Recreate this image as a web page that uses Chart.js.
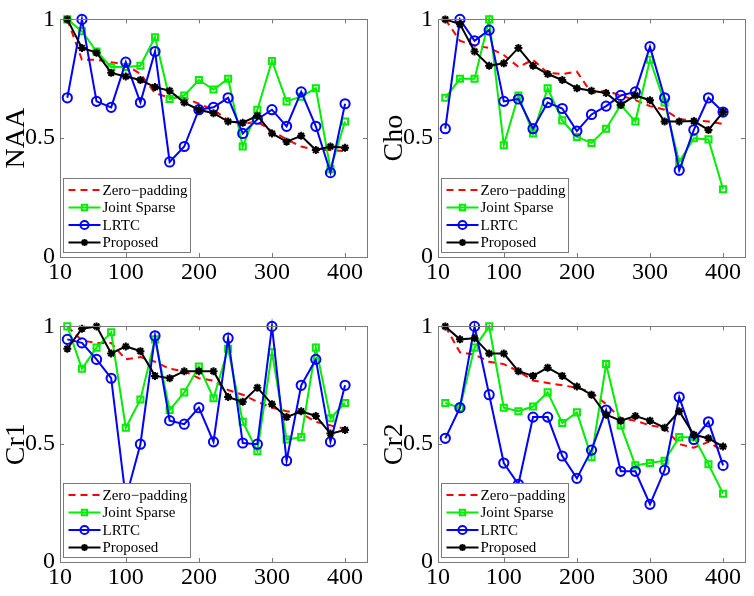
<!DOCTYPE html>
<html>
<head>
<meta charset="utf-8">
<script src="https://cdn.jsdelivr.net/npm/chart.js@4.4.1/dist/chart.umd.min.js"></script>
<style>
  body { margin: 0; background: #fff; overflow: hidden; }
  canvas { position: absolute; }
</style>
</head>
<body>
<canvas id="cNAA" width="377" height="298" style="left:0px;top:0px;width:377px;height:298px"></canvas>
<canvas id="cCho" width="377" height="298" style="left:378px;top:0px;width:377px;height:298px"></canvas>
<canvas id="cCr1" width="377" height="289" style="left:0px;top:307px;width:377px;height:289px"></canvas>
<canvas id="cCr2" width="377" height="289" style="left:378px;top:307px;width:377px;height:289px"></canvas>
<script>
// datos
const xValues = [20, 40, 60, 80, 100, 120, 140, 160, 180, 200, 220, 240, 260, 280, 300, 320, 340, 360, 380, 400];
const xTicks = [10, 100, 200, 300, 400];
const yTicks = [0, 0.5, 1];
const yTickLabels = ['0', '0.5', '1'];
const seriesNames = ['Zero\u2212padding', 'Joint Sparse', 'LRTC', 'Proposed'];

// NAA
const naaZero = [1.00, 0.83, 0.83, 0.82, 0.81, 0.77, 0.69, 0.67, 0.67, 0.645, 0.62, 0.575, 0.56, 0.57, 0.53, 0.495, 0.465, 0.45, 0.45, 0.445];
const naaJoint = [1.00, 0.95, 0.865, 0.80, 0.80, 0.805, 0.925, 0.665, 0.68, 0.745, 0.705, 0.75, 0.465, 0.62, 0.825, 0.655, 0.675, 0.71, 0.37, 0.57];
const naaLrtc = [0.67, 1.00, 0.655, 0.63, 0.82, 0.65, 0.865, 0.40, 0.465, 0.62, 0.63, 0.67, 0.52, 0.58, 0.62, 0.55, 0.695, 0.55, 0.355, 0.645];
const naaProp = [1.00, 0.88, 0.86, 0.775, 0.76, 0.745, 0.715, 0.70, 0.65, 0.62, 0.605, 0.57, 0.565, 0.595, 0.52, 0.485, 0.51, 0.45, 0.465, 0.46];

// Cho
const choZero = [1.00, 0.91, 0.89, 0.88, 0.85, 0.80, 0.83, 0.775, 0.77, 0.78, 0.69, 0.70, 0.68, 0.66, 0.635, 0.62, 0.58, 0.575, 0.57, 0.56];
const choJoint = [0.67, 0.75, 0.75, 1.00, 0.47, 0.68, 0.52, 0.71, 0.575, 0.505, 0.48, 0.54, 0.64, 0.57, 0.83, 0.65, 0.40, 0.50, 0.495, 0.285];
const choLrtc = [0.54, 1.00, 0.91, 0.955, 0.655, 0.665, 0.54, 0.65, 0.625, 0.53, 0.60, 0.635, 0.68, 0.695, 0.885, 0.67, 0.365, 0.535, 0.67, 0.61];
const choProp = [1.00, 0.98, 0.865, 0.805, 0.815, 0.88, 0.805, 0.77, 0.745, 0.71, 0.70, 0.69, 0.64, 0.68, 0.66, 0.57, 0.57, 0.572, 0.535, 0.61];

// Cr1
const cr1Zero = [1.00, 0.94, 0.93, 0.93, 0.86, 0.87, 0.85, 0.82, 0.81, 0.78, 0.77, 0.73, 0.71, 0.68, 0.655, 0.64, 0.63, 0.595, 0.58, 0.565];
const cr1Joint = [1.00, 0.82, 0.91, 0.975, 0.57, 0.69, 0.945, 0.645, 0.72, 0.83, 0.695, 0.905, 0.595, 0.47, 0.89, 0.52, 0.53, 0.91, 0.61, 0.675];
const cr1Lrtc = [0.945, 0.93, 0.86, 0.78, 0.27, 0.50, 0.96, 0.60, 0.585, 0.655, 0.51, 0.95, 0.505, 0.50, 1.00, 0.43, 0.75, 0.86, 0.51, 0.75];
const cr1Prop = [0.905, 0.99, 1.00, 0.885, 0.915, 0.895, 0.79, 0.78, 0.81, 0.81, 0.81, 0.70, 0.68, 0.74, 0.67, 0.615, 0.64, 0.62, 0.545, 0.56];

// Cr2
const cr2Zero = [1.00, 0.89, 0.88, 0.85, 0.84, 0.81, 0.77, 0.76, 0.75, 0.74, 0.72, 0.67, 0.61, 0.60, 0.58, 0.57, 0.50, 0.485, 0.51, 0.47];
const cr2Joint = [0.675, 0.655, 0.91, 1.00, 0.655, 0.64, 0.66, 0.72, 0.59, 0.635, 0.445, 0.84, 0.58, 0.41, 0.42, 0.43, 0.53, 0.53, 0.415, 0.29];
const cr2Lrtc = [0.525, 0.655, 1.00, 0.71, 0.42, 0.33, 0.615, 0.615, 0.45, 0.355, 0.475, 0.645, 0.385, 0.385, 0.245, 0.39, 0.70, 0.52, 0.595, 0.41];
const cr2Prop = [1.00, 0.945, 0.95, 0.885, 0.885, 0.81, 0.79, 0.825, 0.79, 0.745, 0.71, 0.625, 0.60, 0.62, 0.60, 0.57, 0.64, 0.54, 0.525, 0.49];

const fuente = "'Liberation Serif', 'Times New Roman', serif";
const gris = '#7a7a7a';

// estilos de cada serie (estilo matlab)
const estilos = [
    { borderColor: '#ff0000', borderDash: [7, 5], pointRadius: 0, pointStyle: 'circle', order: 4 },
    { borderColor: '#00ee00', pointStyle: 'rect', pointRadius: 4.3, order: 3 },
    { borderColor: '#0000ff', pointStyle: 'circle', pointRadius: 4.6, order: 2 },
    { borderColor: '#000000', pointStyle: 'star', pointRadius: 4, order: 1 }
];

// caja, ticks interiores y leyenda dentro del area
const cajaMatlab = {
    id: 'cajaMatlab',
    afterDatasetsDraw(chart) {
        const ctx = chart.ctx;
        const a = chart.chartArea;
        const sx = chart.scales.x, sy = chart.scales.y;
        ctx.save();
        ctx.strokeStyle = gris;
        ctx.lineWidth = 1;
        ctx.strokeRect(Math.round(a.left) + 0.5, Math.round(a.top) + 0.5, Math.round(a.right - a.left), Math.round(a.bottom - a.top));
        ctx.beginPath();
        xTicks.forEach(v => {
            const px = Math.round(sx.getPixelForValue(v)) + 0.5;
            ctx.moveTo(px, a.bottom); ctx.lineTo(px, a.bottom - 4);
            ctx.moveTo(px, a.top); ctx.lineTo(px, a.top + 4);
        });
        yTicks.forEach(v => {
            const py = Math.round(sy.getPixelForValue(v)) + 0.5;
            ctx.moveTo(a.left, py); ctx.lineTo(a.left + 4, py);
            ctx.moveTo(a.right, py); ctx.lineTo(a.right - 4, py);
        });
        ctx.stroke();

        // leyenda
        const x0 = Math.round(a.left) + 3.5;
        const yb = Math.round(a.bottom) - 4.5;
        const w = 127, h = 74;
        ctx.fillStyle = '#fff';
        ctx.fillRect(x0, yb - h, w, h);
        ctx.strokeStyle = gris;
        ctx.strokeRect(x0, yb - h, w, h);
        chart.data.datasets.forEach((ds, i) => {
            const y = yb - h + 11.5 + i * 17.5;
            ctx.strokeStyle = ds.borderColor;
            ctx.lineWidth = 2;
            ctx.setLineDash(ds.borderDash || []);
            ctx.beginPath();
            ctx.moveTo(x0 + 5, y);
            ctx.lineTo(x0 + 37, y);
            ctx.stroke();
            ctx.setLineDash([]);
            if (ds.pointRadius > 0) {
                ctx.fillStyle = 'rgba(0,0,0,0)';
                Chart.helpers.drawPoint(ctx, { pointStyle: ds.pointStyle, rotation: 0, radius: ds.pointRadius - 0.5, borderWidth: 2 }, x0 + 21, y);
            }
            ctx.fillStyle = '#000';
            ctx.font = '15px ' + fuente;
            ctx.textBaseline = 'middle';
            ctx.textAlign = 'left';
            ctx.fillText(ds.label, x0 + 39, y + 1);
        });
        ctx.restore();
    }
};

function crearPanel(id, titulo, series, altoEjeX) {
    const ctx = document.getElementById(id).getContext('2d');
    new Chart(ctx, {
        type: 'line',
        data: {
            datasets: series.map((valores, i) => ({
                label: seriesNames[i],
                data: xValues.map((x, j) => ({ x: x, y: valores[j] })),
                borderColor: estilos[i].borderColor,
                borderDash: estilos[i].borderDash,
                borderWidth: 2,
                pointStyle: estilos[i].pointStyle,
                pointRadius: estilos[i].pointRadius,
                pointBorderWidth: 2,
                pointBorderColor: estilos[i].borderColor,
                pointBackgroundColor: 'rgba(0,0,0,0)',
                tension: 0,
                fill: false,
                clip: false,
                order: estilos[i].order
            }))
        },
        options: {
            responsive: false,
            animation: false,
            layout: { padding: { top: 14, right: 10, left: 0, bottom: 0 } },
            plugins: { legend: { display: false }, tooltip: { enabled: false } },
            scales: {
                x: {
                    type: 'linear',
                    min: 10,
                    max: 430,
                    afterBuildTicks: s => { s.ticks = xTicks.map(v => ({ value: v })); },
                    afterFit: s => { s.height = altoEjeX; },
                    grid: { display: false, drawTicks: false },
                    border: { display: false },
                    ticks: { color: '#000', font: { family: fuente, size: 24 }, padding: 1, maxRotation: 0, autoSkip: false, callback: v => String(v) }
                },
                y: {
                    min: 0,
                    max: 1,
                    afterBuildTicks: s => { s.ticks = yTicks.map(v => ({ value: v })); },
                    afterFit: s => { s.width = 60; },
                    grid: { display: false, drawTicks: false },
                    border: { display: false },
                    ticks: { color: '#000', font: { family: fuente, size: 24 }, padding: 5, callback: (v, i) => yTickLabels[i] },
                    title: { display: true, text: titulo, color: '#000', font: { family: fuente, size: 28 }, padding: 0 }
                }
            }
        },
        plugins: [cajaMatlab]
    });
}

crearPanel('cNAA', 'NAA', [naaZero, naaJoint, naaLrtc, naaProp], 41);
crearPanel('cCho', 'Cho', [choZero, choJoint, choLrtc, choProp], 41);
crearPanel('cCr1', 'Cr1', [cr1Zero, cr1Joint, cr1Lrtc, cr1Prop], 34);
crearPanel('cCr2', 'Cr2', [cr2Zero, cr2Joint, cr2Lrtc, cr2Prop], 34);
</script>
</body>
</html>
